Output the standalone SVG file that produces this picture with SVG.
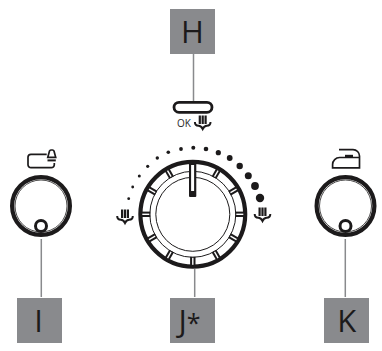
<svg xmlns="http://www.w3.org/2000/svg" width="382" height="351" viewBox="0 0 382 351">
<style>
.box{fill:#898a8d}
.lab{font-family:"Open Sans","Liberation Sans",sans-serif;font-size:31px;fill:#1c1a1b;text-anchor:middle}
.con{stroke:#898a8d;stroke-width:1.5;fill:none}
.k{fill:none;stroke:#1c1a1b}
.d{fill:#1c1a1b}
</style>
<defs>
<g id="tick"><rect x="-2.7" y="-53" width="5.4" height="10.5" class="d"/><rect x="-0.7" y="-50.5" width="1.4" height="7" fill="#fff"/></g>
<g id="knob">
<circle r="28.9" class="k" stroke-width="4.2"/>
<circle r="26" class="k" stroke-width="0.8"/>
<circle cy="20" r="5.5" class="k" stroke-width="3"/>
</g>
<g id="sm">
<path d="M-7.8,0q0,3.8 3.6,3.8q2.7,0 4.2,3.2q1.5,-3.2 4.2,-3.2q3.6,0 3.6,-3.8" class="k" stroke-width="2"/>
<rect x="-4" y="-6.5" width="2.2" height="8.5" class="d"/><rect x="-1.1" y="-6.5" width="2.2" height="8.5" class="d"/><rect x="1.8" y="-6.5" width="2.2" height="8.5" class="d"/>
</g>
</defs>
<g id="connectors">
<path class="con" d="M193.5,54V101M41.3,239V297M194.7,269V297M345.3,239V297"/>
</g>
<g id="node-H"><rect class="box" x="170" y="9" width="45" height="45"/><text class="lab" x="192.5" y="43">H</text></g>
<g id="node-I"><rect class="box" x="17" y="298" width="45" height="45"/><text class="lab" x="38.7" y="332">I</text></g>
<g id="node-J"><rect class="box" x="170" y="298" width="45" height="45"/><text class="lab" x="189.5" y="332">J<tspan font-size="25">*</tspan></text></g>
<g id="node-K"><rect class="box" x="324" y="298" width="45" height="45"/><text class="lab" x="346.7" y="332">K</text></g>
<g id="ok-button">
<rect x="174" y="102.3" width="38" height="10" rx="5" class="k" stroke-width="2.8"/>
<text x="177" y="127" font-family="'Open Sans','Liberation Sans',sans-serif" font-size="10" fill="#2a2a2a">OK</text>
<use href="#sm" x="202.7" y="122"/>
</g>
<g id="main-dial">
<circle cx="192.8" cy="214.3" r="52.4" class="k" stroke-width="4.2"/>
<circle cx="192.8" cy="214.3" r="43" class="k" stroke-width="1"/>
<circle cx="192.8" cy="214.3" r="37" class="k" stroke-width="1"/>
<g transform="translate(192.8 214.3)">
<use href="#tick" transform="rotate(30)"/><use href="#tick" transform="rotate(60)"/><use href="#tick" transform="rotate(90)"/><use href="#tick" transform="rotate(120)"/><use href="#tick" transform="rotate(150)"/><use href="#tick" transform="rotate(180)"/><use href="#tick" transform="rotate(210)"/><use href="#tick" transform="rotate(240)"/><use href="#tick" transform="rotate(270)"/><use href="#tick" transform="rotate(300)"/><use href="#tick" transform="rotate(330)"/>
</g>
<rect x="189" y="161" width="7.3" height="36" rx="1" class="d"/>
<rect x="191.1" y="165" width="3" height="26" fill="#fff"/>
</g>
<g id="dots" class="d">
<circle cx="128.7" cy="198.7" r="1.4"/><circle cx="132.7" cy="187" r="1.4"/><circle cx="139.3" cy="176" r="1.5"/><circle cx="147.7" cy="166.3" r="1.6"/><circle cx="157.3" cy="158" r="1.7"/><circle cx="168.3" cy="152.3" r="1.8"/><circle cx="181" cy="149" r="1.9"/><circle cx="193.3" cy="147.7" r="2"/><circle cx="206" cy="149" r="2.3"/><circle cx="218.3" cy="152.7" r="2.6"/><circle cx="229.7" cy="158" r="2.9"/><circle cx="239.7" cy="166" r="3.2"/><circle cx="248.3" cy="175.7" r="3.5"/><circle cx="255" cy="186" r="3.9"/><circle cx="260" cy="198" r="4.2"/>
</g>
<use id="icon-left" href="#sm" x="125" y="216"/>
<use id="icon-right" href="#sm" x="262.5" y="214"/>
<use id="knob-I" href="#knob" x="41" y="206"/>
<use id="knob-K" href="#knob" x="345.5" y="206"/>
<g id="icon-tank" class="k" stroke-width="1.7">
<path d="M46.7,154.3H31a3,3 0 0 0 -3,3V164.7a3,3 0 0 0 3,3H51.3a3,3 0 0 0 3,-3V163"/>
<path d="M47.8,157.3L49.5,151a1.5,1.5 0 0 1 1.4,-1H52.6a1.5,1.5 0 0 1 1.4,1L55.7,157.3z"/>
<path d="M47.5,160.4H55.8" stroke-width="2"/>
</g>
<g id="icon-iron" class="k" stroke-width="1.7">
<path d="M339,149.6H353a6.5,6.5 0 0 1 6.5,6.5V167.8H332.6V164.5a7,7 0 0 1 7,-7H359.5"/>
<path d="M345,156H353" stroke-width="2.4"/>
</g>
</svg>
